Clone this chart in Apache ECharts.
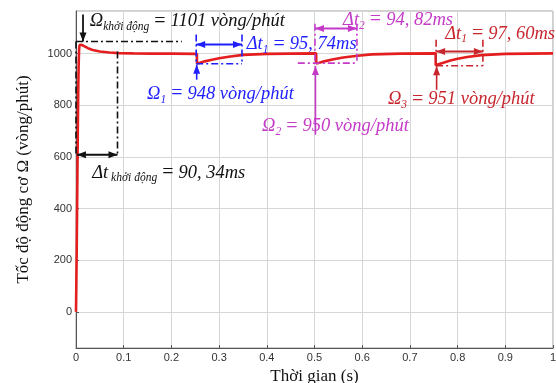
<!DOCTYPE html>
<html><head><meta charset="utf-8">
<script src="https://cdn.jsdelivr.net/npm/echarts@6/dist/echarts.min.js"></script>
<style>html,body{margin:0;padding:0;background:#fff}#c{width:556px;height:383px}</style>
</head><body><div id="c"></div>
<script>
// ---- data ----
const timeS = [0, 0.0008, 0.0016, 0.0024, 0.0032, 0.004, 0.0048, 0.0056, 0.0065, 0.0075, 0.009, 0.012, 0.018, 0.025, 0.035, 0.05, 0.07, 0.09, 0.12, 0.16, 0.2,
  0.2535, 0.2536, 0.26, 0.27, 0.285, 0.3, 0.32, 0.35, 0.4, 0.45,
  0.5035, 0.5036, 0.51, 0.52, 0.54, 0.56, 0.59, 0.62, 0.68,
  0.754, 0.7541, 0.76, 0.77, 0.785, 0.8, 0.82, 0.85, 0.9, 0.95, 1.0];
const speedRpm = [0, 120, 260, 420, 580, 740, 870, 960, 1015, 1033, 1036, 1034, 1028, 1021, 1014, 1008, 1004, 1002, 1001, 1000, 1000,
  999, 962, 965, 970, 976, 982, 988, 995, 999, 1000,
  1001, 962, 965, 970, 978, 985, 992, 997, 1000,
  1001, 955, 959, 965, 973, 980, 987, 994, 999, 1000, 1001];
const xTicks = [0, 0.1, 0.2, 0.3, 0.4, 0.5, 0.6, 0.7, 0.8, 0.9, 1];
const yTicks = [0, 200, 400, 600, 800, 1000];
const xTitle = 'Thời gian (s)';
const yTitle = 'Tốc độ động cơ Ω (vòng/phút)';

// annotation anchors in data units [t, rpm]
const startArrow = [[0.0147, 1151], [0.0147, 1047]];
const startHLine = [[0.0, 1047], [0.222, 1047]];
const startVLeft = [[0.0, 1047], [0.0, 608]];
const startVRight = [[0.087, 1008], [0.087, 608]];
const startDArrow = [[0.002, 608], [0.087, 608]];
const startTextPos = [0.029, 1124];
const startDtTextPos = [0.034, 538];

const d1Box = {t0: 0.252, t1: 0.348, top: 1074, bot: 961, arrowV: 1035, upFrom: 899, upTo: 957};
const d2Box = {t0: 0.501, t1: 0.589, top: 1116, bot: 963, arrowV: 1097, hFrom: 0.465, upFrom: 686, upTo: 952};
const d3Box = {t0: 0.755, t1: 0.853, top: 1054, bot: 953, arrowV: 1008, upFrom: 860, upTo: 951};
const d1TextPos = [0.358, 1035], o1TextPos = [0.149, 843];
const d2TextPos = [0.560, 1130], o2TextPos = [0.390, 718];
const d3TextPos = [0.774, 1076], o3TextPos = [0.654, 823];

const chart = echarts.init(document.getElementById('c'), null, {renderer: 'canvas'});
const serif = 'Liberation Serif, Times New Roman, serif';
chart.setOption({
  animation: false,
  backgroundColor: '#fff',
  grid: {left: 76, right: 3, top: 11, bottom: 35, show: true, borderColor: '#a0a0a0', borderWidth: 1,
    containLabel: false, outerBoundsMode: 'none'},
  xAxis: {
    type: 'value', min: 0, max: 1, interval: 0.1,
    name: xTitle, nameLocation: 'middle', nameGap: 18,
    nameTextStyle: {fontFamily: serif, fontSize: 17, color: '#111'},
    axisLine: {show: true, onZero: false, lineStyle: {color: '#555'}},
    axisTick: {inside: true, length: 3, lineStyle: {color: '#555'}},
    axisLabel: {color: '#333', fontSize: 11, fontFamily: 'Liberation Sans, Arial', margin: 4,
      formatter: v => { const r = Math.round(v * 10) / 10; return xTicks.includes(r) ? String(r) : ''; }},
    splitLine: {show: true, lineStyle: {color: '#d6d6d6'}}
  },
  yAxis: {
    type: 'value', min: -140, max: 1165, splitNumber: 6,
    name: yTitle, nameLocation: 'middle', nameGap: 44, nameRotate: 90,
    nameTextStyle: {fontFamily: serif, fontSize: 17, color: '#111'},
    axisLine: {show: true, lineStyle: {color: '#555'}},
    axisTick: {inside: true, length: 3, lineStyle: {color: '#555'}},
    axisLabel: {color: '#333', fontSize: 11, fontFamily: 'Liberation Sans, Arial', margin: 4,
      showMinLabel: false, showMaxLabel: false,
      formatter: v => yTicks.includes(v) ? String(v) : ''},
    splitLine: {show: true, lineStyle: {color: '#d6d6d6'}}
  },
  series: [{
    type: 'line', data: timeS.map((t, i) => [t, speedRpm[i]]),
    showSymbol: false, lineStyle: {color: '#e41e1e', width: 2.6}, z: 3
  }]
});

const P = p => chart.convertToPixel({gridIndex: 0}, p);
const g = [];
const dashDot = [7, 3, 2, 3];
function line(a, b, color, w, dash) {
  const p = P(a), q = P(b);
  g.push({type: 'line', z: 10, shape: {x1: p[0], y1: p[1], x2: q[0], y2: q[1]},
    style: {stroke: color, lineWidth: w, lineDash: dash || null}});
}
function head(tip, from, color, len, wid) {
  const dx = tip[0] - from[0], dy = tip[1] - from[1], L = Math.hypot(dx, dy) || 1;
  const ux = dx / L, uy = dy / L, bx = tip[0] - ux * len, by = tip[1] - uy * len;
  g.push({type: 'polygon', z: 11, shape: {points: [tip, [bx - uy * wid / 2, by + ux * wid / 2], [bx + uy * wid / 2, by - ux * wid / 2]]},
    style: {fill: color}});
}
function arrow(a, b, color, w, double) {
  const p = P(a), q = P(b);
  g.push({type: 'line', z: 10, shape: {x1: p[0], y1: p[1], x2: q[0], y2: q[1]}, style: {stroke: color, lineWidth: w}});
  head(q, p, color, 9, 7);
  if (double) head(p, q, color, 9, 7);
}
function rtext(pos, parts, color) {
  const p = P(pos);
  g.push({type: 'text', z: 12, x: p[0], y: p[1], style: {
    text: parts, fill: color, verticalAlign: 'middle', align: 'left',
    rich: {
      it: {fontFamily: serif, fontStyle: 'italic', fontSize: 18.5, fill: color},
      eq: {fontFamily: serif, fontSize: 20, fill: color},
      sub: {fontFamily: serif, fontStyle: 'italic', fontSize: 11.5, fill: color, padding: [11, 0, 0, 0]}
    }}});
}

// black (start-up)
const K = '#111';
arrow(startArrow[0], startArrow[1], K, 1.8);
line(startHLine[0], startHLine[1], K, 1.6, dashDot);
line(startVLeft[0], startVLeft[1], K, 1.6, dashDot);
line(startVRight[0], startVRight[1], K, 1.6, dashDot);
arrow(startDArrow[0], startDArrow[1], K, 2, true);
rtext(startTextPos, '{it|Ω}{sub|khởi động}{eq| = }{it|1101 vòng/phút}', K);
rtext(startDtTextPos, '{it|Δt}{sub| khởi động}{eq| = }{it|90, 34ms}', K);

function box(b, color, hFrom) {
  line([b.t0, b.top], [b.t0, b.bot], color, 1.6, dashDot);
  line([b.t1, b.top], [b.t1, b.bot], color, 1.6, dashDot);
  line([hFrom != null ? hFrom : b.t0, b.bot], [b.t1, b.bot], color, 1.6, dashDot);
  arrow([b.t0, b.arrowV], [b.t1, b.arrowV], color, 2, true);
  arrow([b.t0 + 0.001, b.upFrom], [b.t0 + 0.001, b.upTo], color, 1.6);
}
const B = '#1f1fff', M = '#c43bc8', R = '#c8262e';
box(d1Box, B);
rtext(d1TextPos, '{it|Δt}{sub|1}{eq| = }{it|95, 74ms}', B);
rtext(o1TextPos, '{it|Ω}{sub|1}{eq| = }{it|948 vòng/phút}', B);
box(d2Box, M, d2Box.hFrom);
rtext(d2TextPos, '{it|Δt}{sub|2}{eq| = }{it|94, 82ms}', M);
rtext(o2TextPos, '{it|Ω}{sub|2}{eq| = }{it|950 vòng/phút}', M);
box(d3Box, R);
rtext(d3TextPos, '{it|Δt}{sub|1}{eq| = }{it|97, 60ms}', R);
rtext(o3TextPos, '{it|Ω}{sub|3}{eq| = }{it|951 vòng/phút}', R);

chart.setOption({graphic: g});
</script></body></html>
